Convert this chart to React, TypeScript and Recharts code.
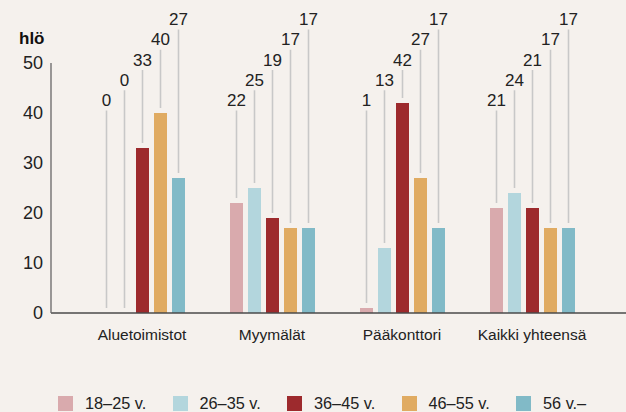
import React from 'react';
import { BarChart, Bar, XAxis, YAxis, LabelList, Legend } from 'recharts';

const categories = ['Aluetoimistot', 'Myymälät', 'Pääkonttori', 'Kaikki yhteensä'];
const age18to25 = [0, 22, 1, 21];
const age26to35 = [0, 25, 13, 24];
const age36to45 = [33, 19, 42, 21];
const age46to55 = [40, 17, 27, 17];
const age56plus = [27, 17, 17, 17];
const seriesNames = ['18–25 v.', '26–35 v.', '36–45 v.', '46–55 v.', '56 v.–'];
const yTicks = [0, 10, 20, 30, 40, 50];

const seriesValues = [age18to25, age26to35, age36to45, age46to55, age56plus];
const colors = ['#d9aaad', '#b3d6dd', '#9d2a2d', '#e0ab62', '#81bac7'];

const data = categories.map((name, c) => {
  const row: Record<string, string | number> = { name };
  seriesValues.forEach((vals, s) => {
    row[`s${s}`] = vals[c];
  });
  return row;
});

const FONT = '"Liberation Sans", Arial, sans-serif';

// staggered label rows: lowest row for the first series, one row up for each next one
const LABEL_BASE = 100;
const LABEL_STEP = 20.25;

const makeLeader = (seriesIndex: number) => (props: any) => {
  const { x, y, width, value } = props;
  const cx = Number(x) + Number(width) / 2;
  const labelY = LABEL_BASE - seriesIndex * LABEL_STEP;
  const lineTop = labelY + 10.5;
  const lineBottom = Number(y) - 5;
  return (
    <g>
      {lineBottom > lineTop && (
        <line x1={cx} x2={cx} y1={lineTop} y2={lineBottom} stroke="#c8c8c8" strokeWidth={1.6} />
      )}
      <text x={cx} y={labelY + 6} textAnchor="middle" fontSize={17} fill="#222" fontFamily={FONT}>
        {value}
      </text>
    </g>
  );
};

const renderLegend = (props: any) => {
  const { payload = [] } = props;
  return (
    <div style={{ position: 'relative', width: 626, height: 16, fontFamily: FONT }}>
      {payload.map((entry: any, i: number) => (
        <div
          key={entry.value}
          style={{ position: 'absolute', left: 58 + i * 114.5, top: 0, display: 'flex', alignItems: 'center' }}
        >
          <span style={{ display: 'inline-block', width: 15, height: 15, background: entry.color }} />
          <span style={{ marginLeft: 12, fontSize: 16.3, color: '#222', lineHeight: '15px' }}>{entry.value}</span>
        </div>
      ))}
    </div>
  );
};

export default function App() {
  return (
    <div style={{ position: 'absolute', left: 0, top: 0, width: 626, height: 412, background: '#f5f1ed' }}>
      <BarChart
        width={626}
        height={412}
        data={data}
        margin={{ top: 63, right: 0, left: 0, bottom: 0 }}
        barSize={13}
        barGap={5}
      >
        <text x={19} y={44} fontSize={17} fontWeight="bold" fill="#111" fontFamily={FONT}>
          hlö
        </text>
        <XAxis
          dataKey="name"
          height={99}
          padding={{ left: 26, right: 29 }}
          tickLine={false}
          tickSize={0}
          tickMargin={16}
          axisLine={{ stroke: '#4a4a4a', strokeWidth: 1.6 }}
          tick={{ fontSize: 15.5, fill: '#222', fontFamily: FONT }}
        />
        <YAxis
          width={51}
          domain={[0, 50]}
          ticks={yTicks}
          tickLine={false}
          tickSize={0}
          tickMargin={8}
          axisLine={{ stroke: '#666', strokeWidth: 1.3 }}
          tick={{ fontSize: 18, fill: '#222', fontFamily: FONT }}
        />
        <Legend
          layout="horizontal"
          verticalAlign="middle"
          align="center"
          wrapperStyle={{ top: 396, left: 0, width: 626 }}
          content={renderLegend}
        />
        {seriesNames.map((name, s) => (
          <Bar
            key={name}
            dataKey={`s${s}`}
            name={name}
            fill={colors[s]}
            minPointSize={0.001}
            isAnimationActive={false}
          >
            <LabelList dataKey={`s${s}`} content={makeLeader(s)} />
          </Bar>
        ))}
      </BarChart>
    </div>
  );
}
